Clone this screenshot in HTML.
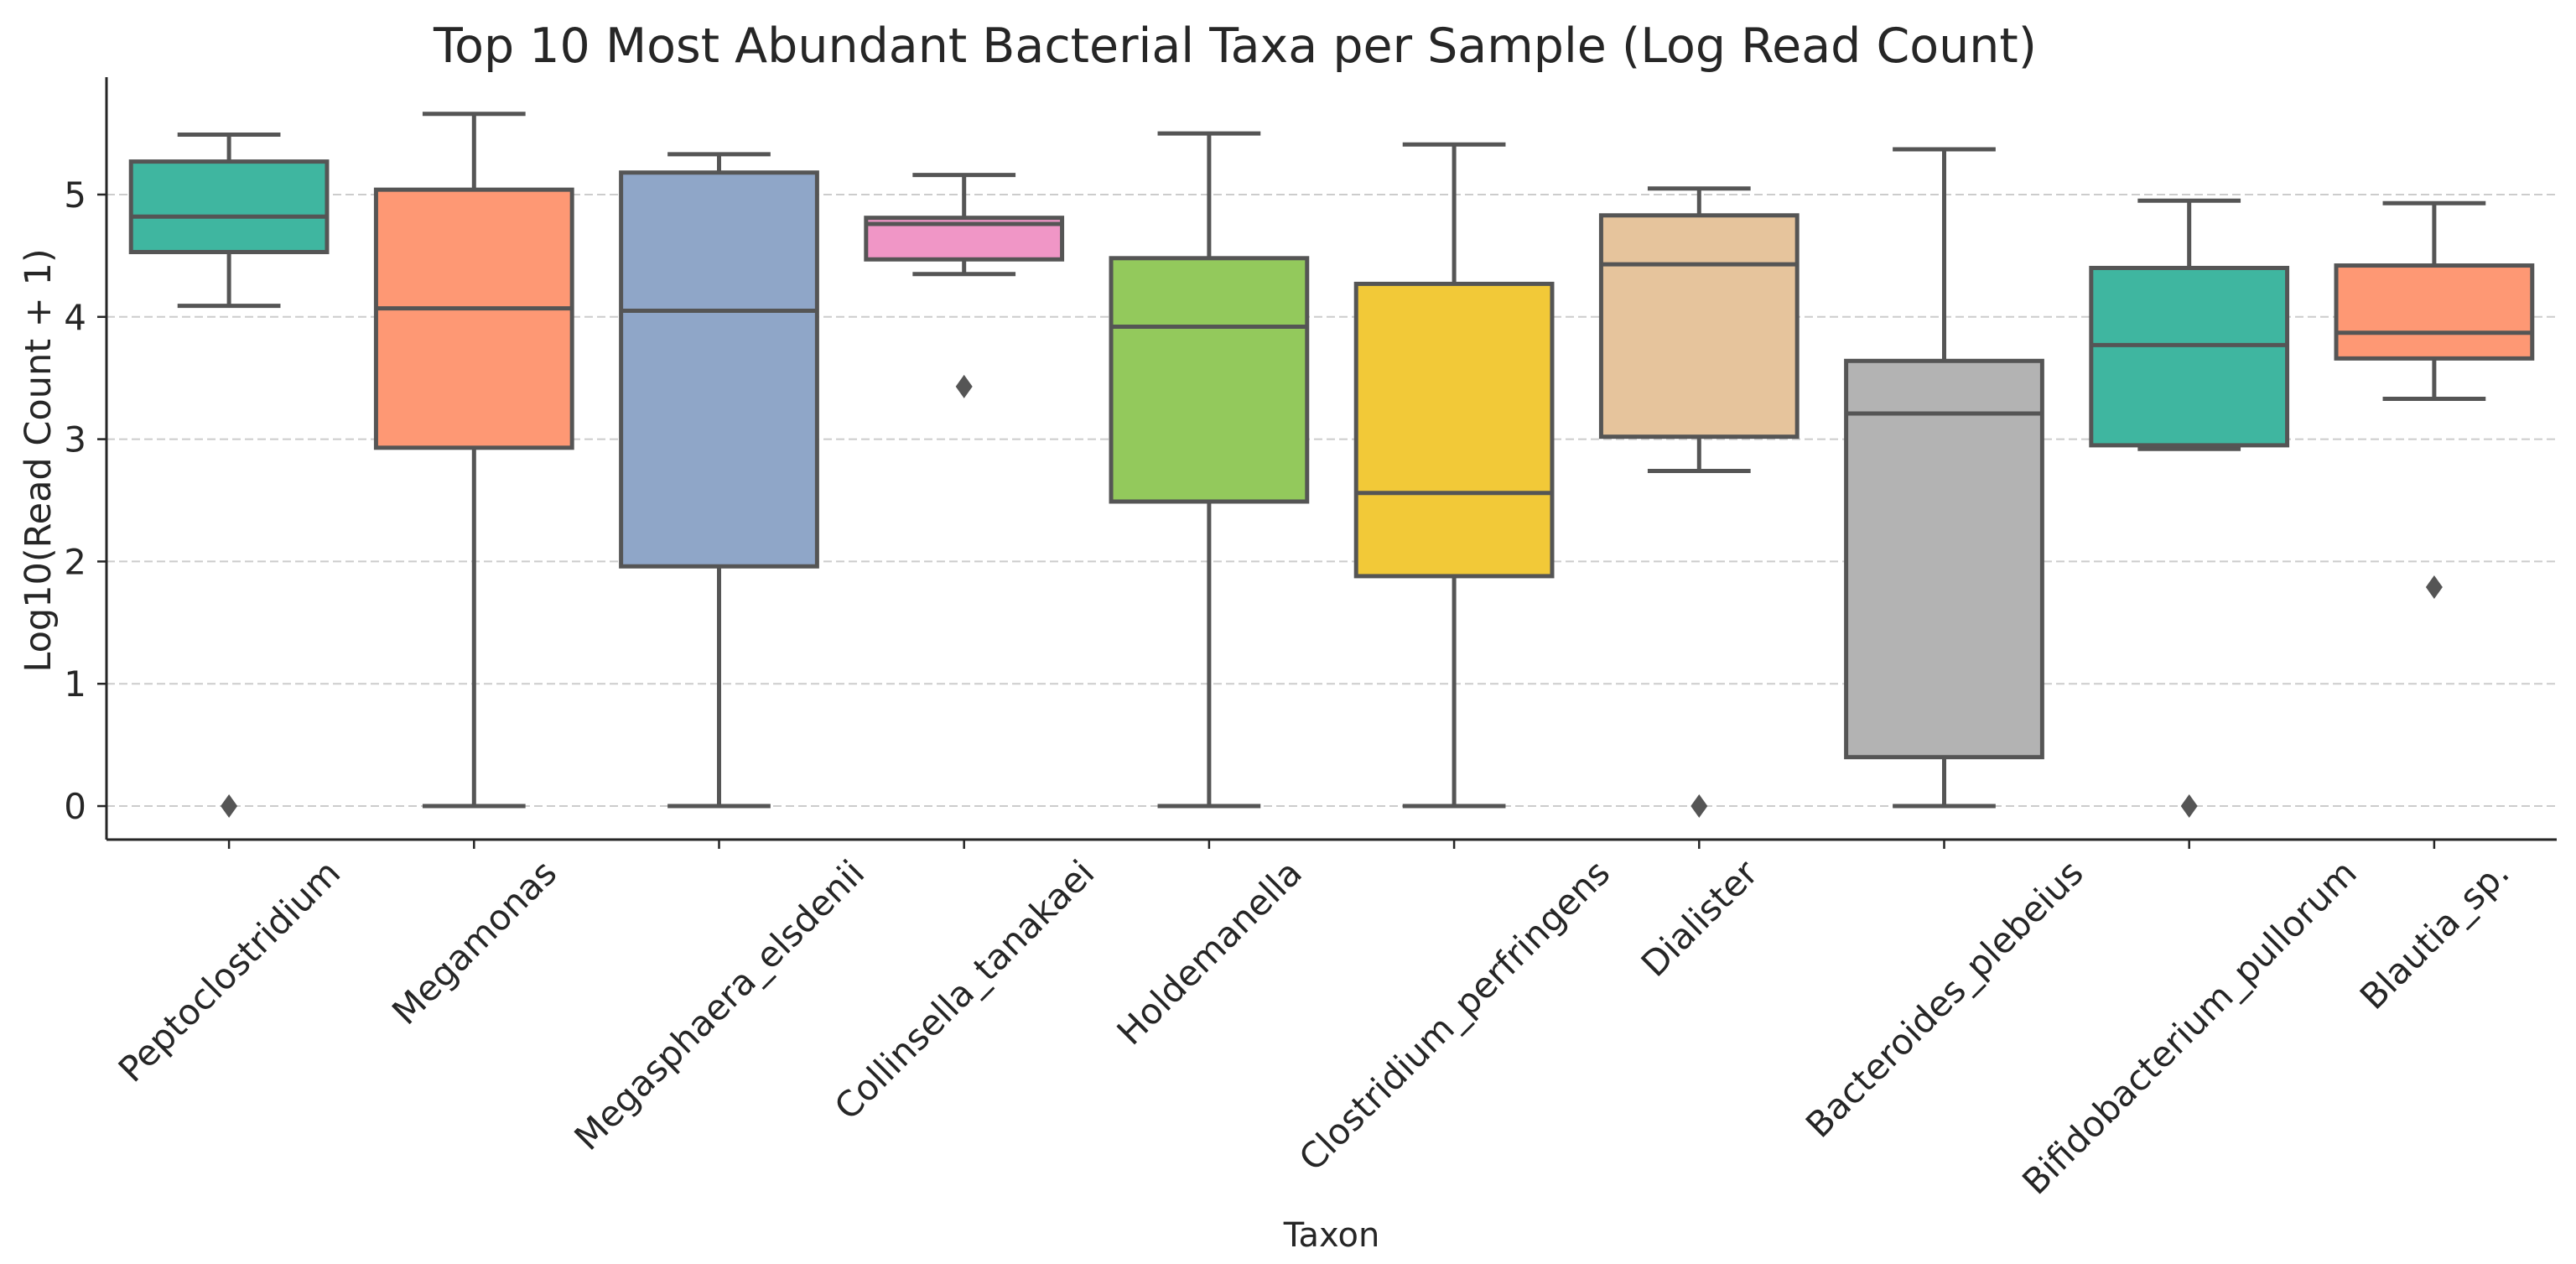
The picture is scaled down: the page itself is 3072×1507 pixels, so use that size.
<!DOCTYPE html>
<html><head><meta charset="utf-8"><style>
html,body{margin:0;padding:0;background:#fff;}
svg{display:block;font-family:"DejaVu Sans","Liberation Sans",sans-serif;}
</style></head><body>
<svg id="chart" width="3072" height="1507" viewBox="0 0 3072 1507" xmlns="http://www.w3.org/2000/svg">
<text x="1473" y="74" font-size="57" text-anchor="middle" fill="#262626">Top 10 Most Abundant Bacterial Taxa per Sample (Log Read Count)</text>
<g id="grid"></g><g id="boxes"></g><g id="axes"></g>
<text transform="translate(60,549) rotate(-90)" font-size="43" text-anchor="middle" fill="#262626">Log10(Read Count + 1)</text>
<text x="1588" y="1486" font-size="40" text-anchor="middle" fill="#262626">Taxon</text>
</svg>
<script>
const categories=["Peptoclostridium","Megamonas","Megasphaera_elsdenii","Collinsella_tanakaei","Holdemanella","Clostridium_perfringens","Dialister","Bacteroides_plebeius","Bifidobacterium_pullorum","Blautia_sp."];
const whiskerLow=[4.09,0,0,4.35,0,0,2.74,0,2.92,3.33];
const q1=[4.53,2.93,1.96,4.47,2.49,1.88,3.02,0.40,2.95,3.66];
const median=[4.82,4.07,4.05,4.76,3.92,2.56,4.43,3.21,3.77,3.87];
const q3=[5.27,5.04,5.18,4.81,4.48,4.27,4.83,3.64,4.40,4.42];
const whiskerHigh=[5.49,5.66,5.33,5.16,5.50,5.41,5.05,5.37,4.95,4.93];
const outliers=[[0],[],[],[3.43],[],[],[0],[],[0],[1.79]];
const colors=["#3fb6a0","#fe9874","#8fa6c8","#f096c6","#93c95c","#f2c938","#e6c49c","#b3b3b3","#3fb6a0","#fe9874"];
const yTicks=[0,1,2,3,4,5];
const NS="http://www.w3.org/2000/svg";
const plotLeft=127,plotRight=3049,plotTop=92,plotBottom=1001;
const yMin=-0.274,yMax=5.96;
const yScale=v=>plotBottom-(v-yMin)/(yMax-yMin)*(plotBottom-plotTop);
const step=(plotRight-plotLeft)/categories.length;
const xScale=i=>plotLeft+step*(i+0.5);
function mk(tag,attrs,parent){const e=document.createElementNS(NS,tag);for(const k in attrs)e.setAttribute(k,attrs[k]);parent.appendChild(e);return e;}
const grid=document.getElementById('grid'),boxes=document.getElementById('boxes'),axes=document.getElementById('axes');
yTicks.forEach(t=>{
 const g=mk('line',{x1:plotLeft,x2:plotRight,y1:yScale(t),y2:yScale(t),stroke:'#cccccc','stroke-width':2,'stroke-dasharray':'10,5'},grid);
 
 
 const tk=mk('line',{x1:plotLeft-11,x2:plotLeft,y1:yScale(t),y2:yScale(t),stroke:'#262626','stroke-width':2.5},axes);
 
 
 const lb=mk('text',{x:plotLeft-24,y:yScale(t)+15,'font-size':42,'text-anchor':'end',fill:'#262626'},axes);
 lb.textContent=t;
 
 
});
const bw=step*0.8,cw=step*0.42,st='#555555';
categories.forEach((c,i)=>{
 const cx=xScale(i);
 const g=mk('g',{},boxes);
 
 
 mk('line',{x1:cx,x2:cx,y1:yScale(q3[i]),y2:yScale(whiskerHigh[i]),stroke:st,'stroke-width':5},g);
 mk('line',{x1:cx,x2:cx,y1:yScale(q1[i]),y2:yScale(whiskerLow[i]),stroke:st,'stroke-width':5},g);
 mk('line',{x1:cx-cw/2,x2:cx+cw/2,y1:yScale(whiskerHigh[i]),y2:yScale(whiskerHigh[i]),stroke:st,'stroke-width':5},g);
 mk('line',{x1:cx-cw/2,x2:cx+cw/2,y1:yScale(whiskerLow[i]),y2:yScale(whiskerLow[i]),stroke:st,'stroke-width':5},g);
 mk('rect',{x:cx-bw/2,y:yScale(q3[i]),width:bw,height:yScale(q1[i])-yScale(q3[i]),fill:colors[i],stroke:st,'stroke-width':5},g);
 mk('line',{x1:cx-bw/2,x2:cx+bw/2,y1:yScale(median[i]),y2:yScale(median[i]),stroke:st,'stroke-width':5},g);
 outliers[i].forEach(o=>{
  const oy=yScale(o);
  const p=mk('polygon',{points:`${cx},${oy-14} ${cx+10},${oy} ${cx},${oy+14} ${cx-10},${oy}`,fill:st},g);
  
  
 });
 const tk=mk('line',{x1:cx,x2:cx,y1:plotBottom,y2:plotBottom+11,stroke:'#262626','stroke-width':2.5},axes);
 
 
 const lb=mk('text',{'font-size':42,'text-anchor':'middle',fill:'#262626'},axes);
 lb.textContent=c;
 
 
 const L=lb.getComputedTextLength(),h=42;
 const half=(L+h*0.8)/Math.SQRT2/2;
 const cy=plotBottom+20+half;
 lb.setAttribute('transform',`translate(${cx},${cy}) rotate(-45)`);
 lb.setAttribute('y',15);
});
const ls=mk('line',{x1:plotLeft,x2:plotLeft,y1:plotTop,y2:plotBottom,stroke:'#262626','stroke-width':3},axes);


const bs=mk('line',{x1:plotLeft,x2:plotRight,y1:plotBottom,y2:plotBottom,stroke:'#262626','stroke-width':3},axes);


</script>
</body></html>
